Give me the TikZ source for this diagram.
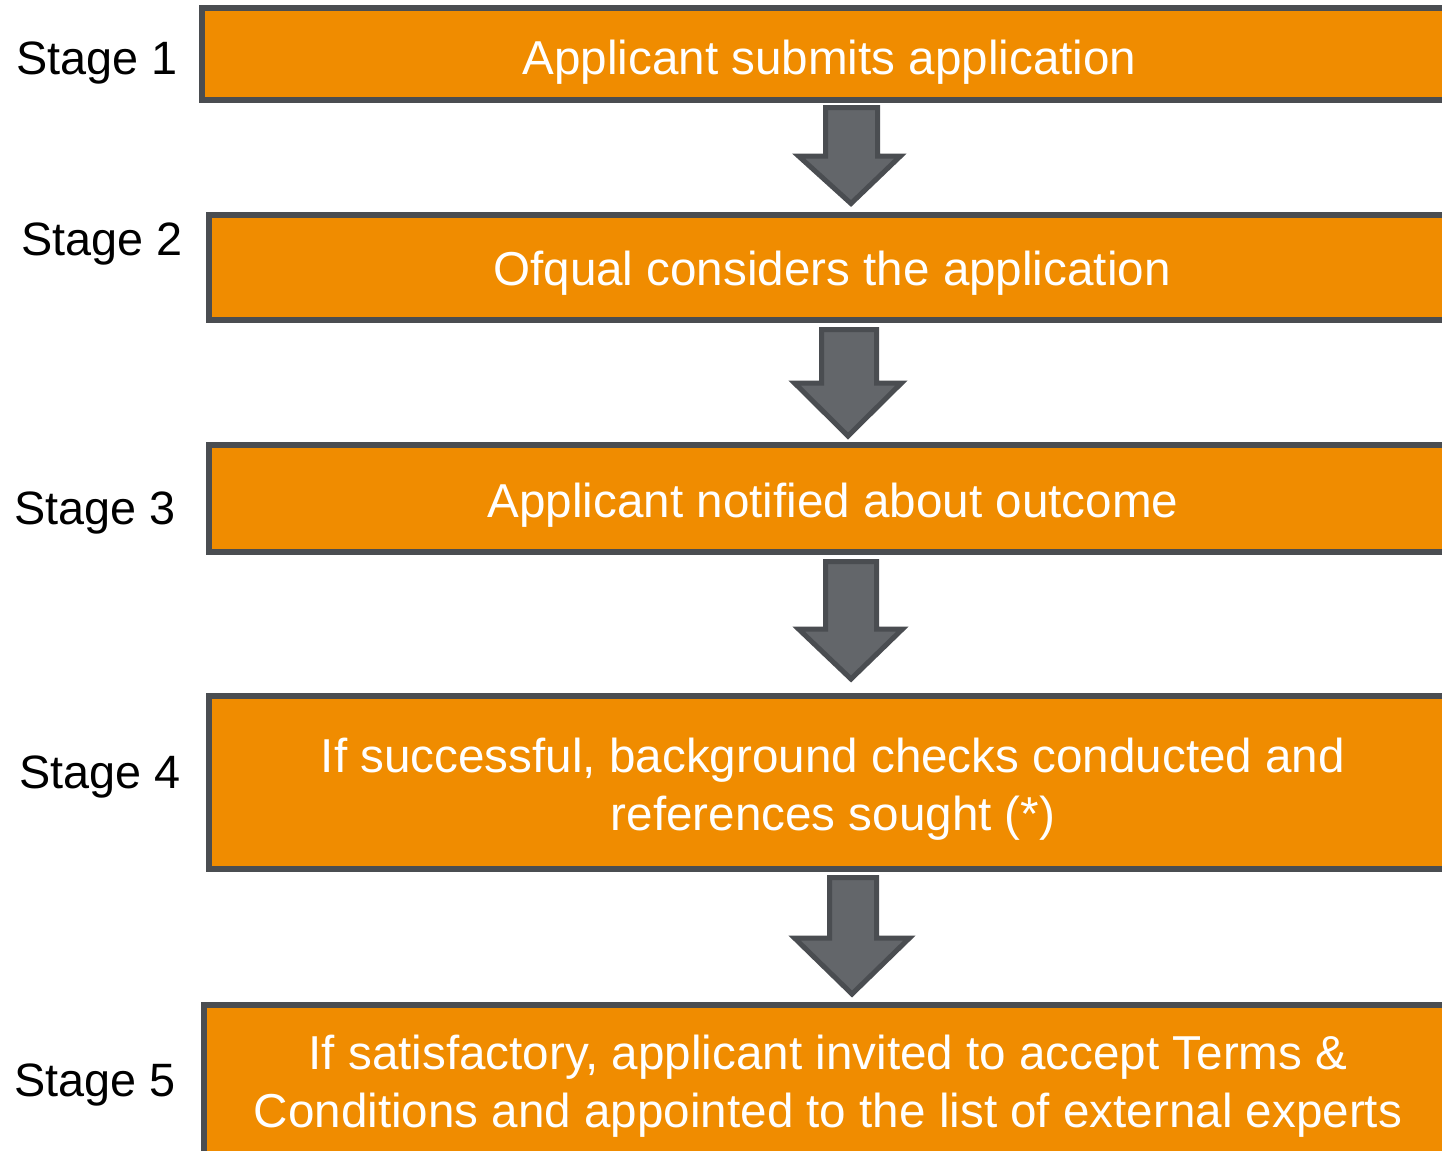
\documentclass[tikz,border=0pt]{standalone}
\usepackage{fontspec}
\setmainfont{Liberation Sans}
\definecolor{orng}{HTML}{F08C00}
\definecolor{edge}{HTML}{4A4D51}
\definecolor{arrfill}{HTML}{63666A}
\begin{document}
\begin{tikzpicture}[x=0.5pt,y=-0.5pt,
  stagebox/.style={draw=edge,fill=orng,line width=3pt},
  blockarrow/.style={draw=edge,fill=arrfill,line width=2.5pt,line join=miter},
  boxtext/.style={text=white,font=\fontsize{23.8}{29}\selectfont,align=center,anchor=base,inner sep=0pt},
  stagelabel/.style={text=black,font=\fontsize{23.4}{28}\selectfont,anchor=base west,inner sep=0pt}]
\path[use as bounding box,fill=white] (0,0) rectangle (1442,1151);
\clip (0,0) rectangle (1442,1151);

% boxes
\draw[stagebox] (202,8) rectangle (1480,100);
\draw[stagebox] (209,214.5) rectangle (1480,320);
\draw[stagebox] (209,444.5) rectangle (1480,552);
\draw[stagebox] (209,696) rectangle (1480,869);
\draw[stagebox] (204,1005) rectangle (1480,1200);

% box texts (base anchor of a multi-line node = last line's baseline)
\node[boxtext] (t1) at (829.5,74) {Applicant submits application};
\node[boxtext] (t2) at (832,285) {Ofqual considers the application};
\node[boxtext] (t3) at (833,517) {Applicant notified about outcome};
\node[boxtext] (t4) at (833,830) {If successful, background checks conducted and\\references sought (*)};
\node[boxtext] (t5) at (828,1127) {If satisfactory, applicant invited to accept Terms \&\\Conditions and appointed to the list of external experts};

% stage labels
\node[stagelabel] (s1) at (16,74) {Stage 1};
\node[stagelabel] (s2) at (21,255) {Stage 2};
\node[stagelabel] (s3) at (14,524) {Stage 3};
\node[stagelabel] (s4) at (19,788) {Stage 4};
\node[stagelabel] (s5) at (14,1096) {Stage 5};

% block arrows
\draw[blockarrow] (825.5,107.5) -- (877.5,107.5) -- (877.5,156) -- (900.5,156) -- (851,203.5) -- (798.5,156) -- (825.5,156) -- cycle;
\draw[blockarrow] (821.5,329.5) -- (876.5,329.5) -- (876.5,383) -- (901.5,383) -- (848,436) -- (794.5,383) -- (821.5,383) -- cycle;
\draw[blockarrow] (825.5,561.5) -- (876.5,561.5) -- (876.5,629) -- (902.5,629) -- (851,679) -- (798.5,629) -- (825.5,629) -- cycle;
\draw[blockarrow] (829.5,877.5) -- (876.5,877.5) -- (876.5,938) -- (909.5,938) -- (852,994) -- (794.5,938) -- (829.5,938) -- cycle;
\end{tikzpicture}
\end{document}
